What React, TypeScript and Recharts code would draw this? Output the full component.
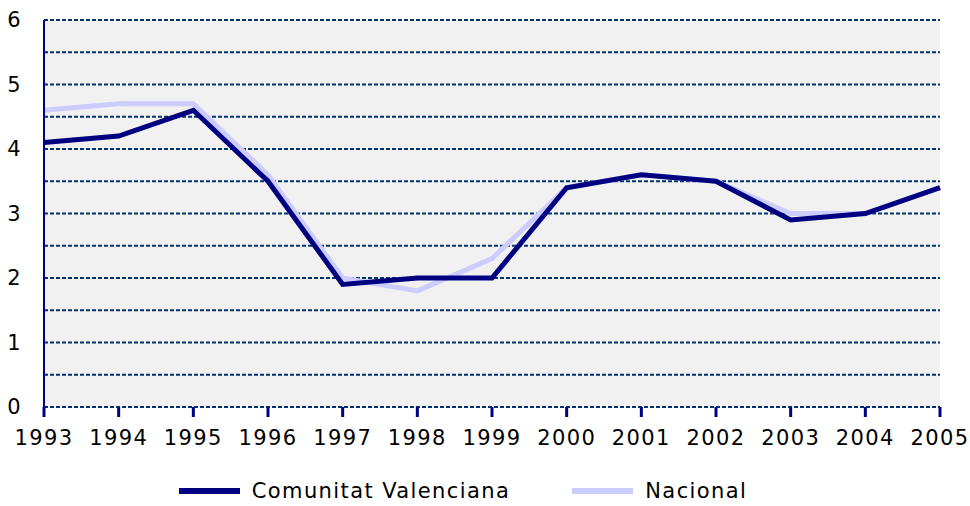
import React from "react";
import {
  LineChart,
  Line,
  XAxis,
  YAxis,
  CartesianGrid,
  Legend,
} from "recharts";

const years = ["1993", "1994", "1995", "1996", "1997", "1998", "1999", "2000", "2001", "2002", "2003", "2004", "2005"];
const valenciana = [4.1, 4.2, 4.6, 3.5, 1.9, 2.0, 2.0, 3.4, 3.6, 3.5, 2.9, 3.0, 3.4];
const nacional = [4.6, 4.7, 4.7, 3.6, 2.0, 1.8, 2.3, 3.4, 3.6, 3.5, 3.0, 3.0, 3.4];
const yTicks = [0, 0.5, 1, 1.5, 2, 2.5, 3, 3.5, 4, 4.5, 5, 5.5, 6];

const data = years.map((year, i) => ({
  year,
  valenciana: valenciana[i],
  nacional: nacional[i],
}));

const FONT = "'DejaVu Sans', Verdana, sans-serif";
const NAVY = "#000080";
const LIGHT = "#ccccff";
const tickStyle = { fontSize: 21, fill: "#000", fontFamily: FONT, letterSpacing: 1.4 };

const seriesInfo = [
  { name: "Comunitat Valenciana", color: NAVY },
  { name: "Nacional", color: LIGHT },
];

const LegendContent = () => (
  <div style={{ display: "flex", justifyContent: "center", alignItems: "center", height: 30, paddingRight: 14, fontFamily: FONT, fontSize: 21, letterSpacing: 1.4, color: "#000" }}>
    {seriesInfo.map((s, i) => (
      <div key={s.name} style={{ display: "flex", alignItems: "center", marginLeft: i ? 62 : 0 }}>
        <span style={{ display: "inline-block", width: 61, height: 6, background: s.color, marginRight: 12 }} />
        <span>{s.name}</span>
      </div>
    ))}
  </div>
);

const App = () => {
  return (
    <div style={{ position: "absolute", left: 0, top: 0, width: 970, height: 506, background: "#fff" }}>
      <LineChart
        width={970}
        height={506}
        data={data}
        margin={{ top: 20, right: 30, left: 0, bottom: 0 }}
      >
        <CartesianGrid
          vertical={false}
          stroke="#00336f"
          strokeWidth={2}
          strokeDasharray="4 2"
          fill="#f1f1f1"
        />
        <XAxis
          dataKey="year"
          axisLine={false}
          tickLine={{ stroke: NAVY, strokeWidth: 3 }}
          tickSize={10}
          tickMargin={13}
          tick={tickStyle}
          interval={0}
          height={69}
        />
        <YAxis
          width={44}
          domain={[0, 6]}
          ticks={yTicks}
          interval={0}
          axisLine={{ stroke: NAVY, strokeWidth: 2 }}
          tickLine={false}
          tickMargin={16}
          tick={tickStyle}
          tickFormatter={(v: number) => (Number.isInteger(v) ? String(v) : "")}
        />
        <Legend verticalAlign="bottom" height={30} content={<LegendContent />} />
        <Line
          type="linear"
          dataKey="nacional"
          name="Nacional"
          stroke={LIGHT}
          strokeWidth={5}
          dot={false}
          isAnimationActive={false}
        />
        <Line
          type="linear"
          dataKey="valenciana"
          name="Comunitat Valenciana"
          stroke={NAVY}
          strokeWidth={5}
          dot={false}
          isAnimationActive={false}
        />
      </LineChart>
    </div>
  );
};

export default App;
